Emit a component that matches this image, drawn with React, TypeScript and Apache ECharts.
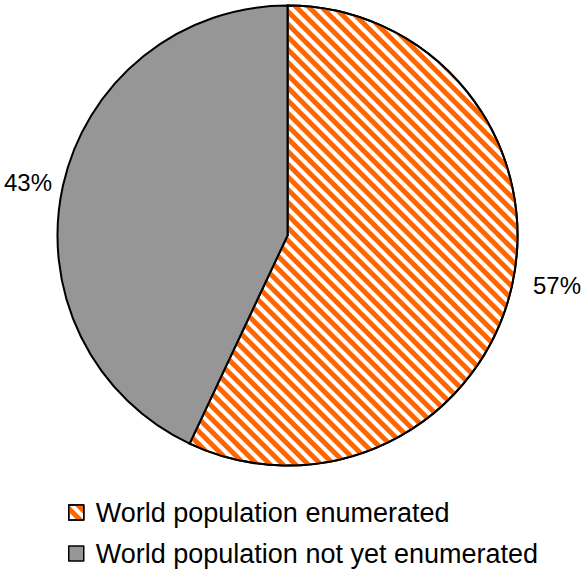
import React, { useEffect, useRef } from "react";
import * as echarts from "echarts";

const categories = ["World population enumerated", "World population not yet enumerated"];
const values = [57, 43];
const fills = ["#ffffff", "#969696"];

export default function App() {
  const ref = useRef<HTMLDivElement>(null);
  useEffect(() => {
    document.body.style.margin = "0";
    const chart = echarts.init(ref.current!, undefined, { renderer: "svg" });
    const data = categories.map((name, i) => ({
      name,
      value: values[i],
      itemStyle:
        i === 0
          ? {
              color: fills[i],
              decal: {
                symbol: "rect",
                color: "#FF6600",
                dashArrayX: [1, 0],
                dashArrayY: [4.2, 4],
                rotation: Math.PI / 4,
                symbolSize: 1,
              },
            }
          : { color: fills[i] },
    }));
    const labelPos = [
      { x: 557, y: 285 },
      { x: 28, y: 182 },
    ];
    chart.setOption({
      animation: false,
      backgroundColor: "#ffffff",
      legend: {
        orient: "vertical",
        left: 68,
        top: 499,
        padding: 0,
        height: 100,
        itemWidth: 15,
        itemHeight: 15,
        itemGap: 14,
        icon: "rect",
        selectedMode: false,
        itemStyle: { borderColor: "#000", borderWidth: 1.5 },
        textStyle: {
          fontSize: 27,
          fontFamily: "Liberation Sans, Arial, sans-serif",
          color: "#000",
          padding: [0, 0, 0, 7],
        },
        data: categories,
      },
      series: [
        {
          type: "pie",
          center: [287.5, 235.5],
          radius: 230,
          startAngle: 90,
          clockwise: true,
          itemStyle: { borderColor: "#000", borderWidth: 2 },
          emphasis: { disabled: true },
          label: {
            show: true,
            position: "inside",
            formatter: "{d}%",
            fontSize: 24,
            fontFamily: "Liberation Sans, Arial, sans-serif",
            color: "#000",
          },
          labelLine: { show: false },
          labelLayout: (params: any) => ({
            x: labelPos[params.dataIndex].x,
            y: labelPos[params.dataIndex].y,
            align: "center",
            verticalAlign: "middle",
          }),
          data,
        },
      ],
    });
    return () => chart.dispose();
  }, []);
  return (
    <div
      ref={ref}
      style={{ position: "absolute", left: 0, top: 0, width: 584, height: 571 }}
    />
  );
}
